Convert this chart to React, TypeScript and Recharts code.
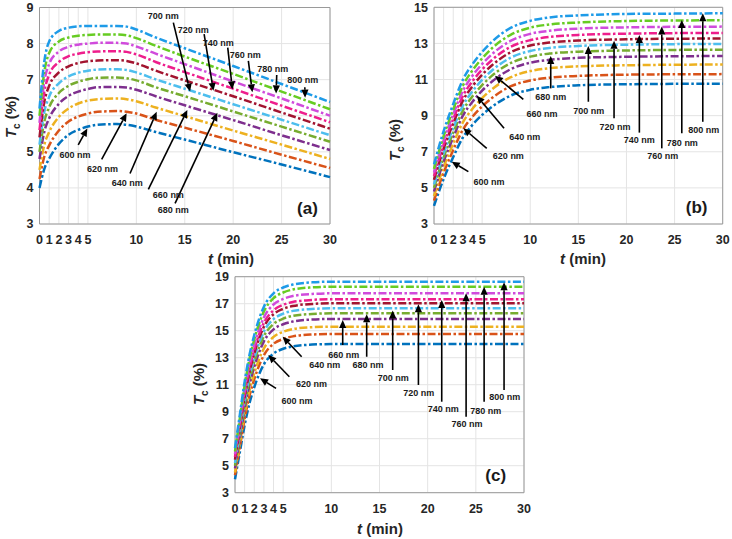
import React from "react";
import {
  LineChart,
  Line,
  XAxis,
  YAxis,
  CartesianGrid,
  ReferenceLine,
  ReferenceDot,
  ReferenceArea,
} from "recharts";

const wavelengths = [600, 620, 640, 660, 680, 700, 720, 740, 760, 780, 800];
const colors = [
  "#0072BD",
  "#D95319",
  "#EDB120",
  "#7E2F8E",
  "#77AC30",
  "#4DBEEE",
  "#A2142F",
  "#EE1E8C",
  "#D04BDC",
  "#66CC22",
  "#1E9BE8",
];
const timeTicks = [0, 1, 2, 3, 4, 5, 10, 15, 20, 25, 30];

// (a) rises, plateaus, then decays
const tA = [0, 0.5, 1, 2, 3, 4, 5, 6, 8, 9, 10, 12, 15, 20, 25, 30];
const a600 = [4.0, 4.53, 4.81, 5.22, 5.47, 5.61, 5.7, 5.75, 5.77, 5.75, 5.7, 5.55, 5.34, 4.99, 4.65, 4.3];
const a620 = [4.25, 4.87, 5.18, 5.59, 5.84, 5.98, 6.06, 6.11, 6.13, 6.11, 6.06, 5.89, 5.67, 5.3, 4.92, 4.55];
const a640 = [4.5, 5.2, 5.55, 5.97, 6.2, 6.34, 6.42, 6.46, 6.48, 6.46, 6.4, 6.23, 5.99, 5.59, 5.2, 4.8];
const a660 = [4.8, 5.56, 5.93, 6.33, 6.55, 6.67, 6.74, 6.79, 6.8, 6.78, 6.72, 6.54, 6.29, 5.88, 5.46, 5.05];
const a680 = [5.0, 5.84, 6.24, 6.63, 6.83, 6.94, 7.01, 7.05, 7.06, 7.04, 6.98, 6.79, 6.54, 6.12, 5.7, 5.28];
const a700 = [5.2, 6.11, 6.53, 6.9, 7.09, 7.19, 7.25, 7.28, 7.29, 7.27, 7.2, 7.01, 6.75, 6.32, 5.89, 5.46];
const a720 = [5.4, 6.39, 6.83, 7.2, 7.37, 7.46, 7.51, 7.53, 7.54, 7.52, 7.45, 7.25, 6.98, 6.54, 6.09, 5.64];
const a740 = [5.6, 6.67, 7.14, 7.49, 7.65, 7.72, 7.76, 7.78, 7.79, 7.77, 7.7, 7.49, 7.21, 6.75, 6.28, 5.82];
const a760 = [5.8, 6.95, 7.44, 7.78, 7.91, 7.97, 8.0, 8.02, 8.02, 8.0, 7.92, 7.72, 7.43, 6.95, 6.48, 6.0];
const a780 = [6.0, 7.22, 7.74, 8.06, 8.17, 8.22, 8.24, 8.25, 8.25, 8.23, 8.15, 7.94, 7.64, 7.16, 6.67, 6.18];
const a800 = [6.2, 7.51, 8.06, 8.35, 8.44, 8.48, 8.49, 8.49, 8.49, 8.47, 8.39, 8.17, 7.87, 7.38, 6.88, 6.38];

// (b) slow saturation
const tB = [0, 0.5, 1, 2, 3, 4, 5, 6, 8, 10, 12, 15, 20, 25, 30];
const b600 = [4.0, 4.78, 5.49, 6.71, 7.79, 8.49, 9.04, 9.48, 10.12, 10.43, 10.58, 10.68, 10.74, 10.76, 10.77];
const b620 = [4.3, 5.11, 5.84, 7.1, 8.22, 8.94, 9.51, 9.97, 10.63, 10.95, 11.1, 11.2, 11.27, 11.29, 11.3];
const b640 = [4.55, 5.39, 6.15, 7.46, 8.63, 9.38, 9.97, 10.45, 11.13, 11.47, 11.63, 11.73, 11.79, 11.82, 11.83];
const b660 = [4.8, 5.66, 6.45, 7.8, 9.0, 9.77, 10.38, 10.88, 11.58, 11.93, 12.09, 12.2, 12.26, 12.29, 12.3];
const b680 = [5.0, 5.88, 6.68, 8.06, 9.28, 10.07, 10.69, 11.2, 11.92, 12.27, 12.44, 12.54, 12.61, 12.64, 12.65];
const b700 = [5.2, 6.09, 6.91, 8.31, 9.55, 10.35, 10.98, 11.49, 12.22, 12.58, 12.75, 12.86, 12.93, 12.96, 12.97];
const b720 = [5.45, 6.35, 7.17, 8.58, 9.83, 10.63, 11.27, 11.78, 12.52, 12.88, 13.05, 13.16, 13.23, 13.26, 13.27];
const b740 = [5.65, 6.56, 7.39, 8.82, 10.09, 10.91, 11.55, 12.07, 12.82, 13.18, 13.36, 13.47, 13.54, 13.57, 13.58];
const b760 = [5.85, 6.78, 7.63, 9.08, 10.37, 11.21, 11.86, 12.39, 13.15, 13.53, 13.7, 13.82, 13.89, 13.92, 13.93];
const b780 = [6.05, 7.0, 7.86, 9.34, 10.66, 11.51, 12.17, 12.72, 13.49, 13.87, 14.05, 14.16, 14.24, 14.27, 14.28];
const b800 = [6.3, 7.26, 8.14, 9.65, 10.99, 11.85, 12.53, 13.08, 13.87, 14.25, 14.44, 14.55, 14.63, 14.65, 14.67];

// (c) fast saturation
const tC = [0, 0.5, 1, 1.5, 2, 3, 4, 5, 6, 8, 10, 15, 20, 25, 30];
const c600 = [4.0, 6.0, 8.0, 9.61, 10.81, 12.51, 13.31, 13.66, 13.84, 13.97, 14.01, 14.01, 14.01, 14.01, 14.01];
const c620 = [4.3, 6.39, 8.48, 10.16, 11.41, 13.19, 14.03, 14.39, 14.58, 14.72, 14.76, 14.76, 14.76, 14.76, 14.76];
const c640 = [4.5, 6.66, 8.82, 10.55, 11.84, 13.68, 14.54, 14.92, 15.12, 15.26, 15.3, 15.3, 15.3, 15.3, 15.3];
const c660 = [4.8, 7.01, 9.23, 11.0, 12.33, 14.21, 15.1, 15.48, 15.68, 15.83, 15.87, 15.87, 15.87, 15.87, 15.87];
const c680 = [5.0, 7.26, 9.52, 11.32, 12.68, 14.6, 15.5, 15.89, 16.1, 16.24, 16.29, 16.29, 16.29, 16.29, 16.29];
const c700 = [5.2, 7.49, 9.78, 11.62, 12.99, 14.94, 15.86, 16.26, 16.47, 16.61, 16.66, 16.66, 16.66, 16.66, 16.66];
const c720 = [5.45, 7.77, 10.08, 11.93, 13.32, 15.29, 16.22, 16.62, 16.83, 16.98, 17.03, 17.03, 17.03, 17.03, 17.03];
const c740 = [5.65, 7.99, 10.32, 12.19, 13.59, 15.58, 16.51, 16.92, 17.13, 17.28, 17.33, 17.33, 17.33, 17.33, 17.33];
const c760 = [5.85, 8.23, 10.62, 12.53, 13.96, 15.98, 16.94, 17.35, 17.57, 17.72, 17.77, 17.77, 17.77, 17.77, 17.77];
const c780 = [6.05, 8.49, 10.93, 12.89, 14.35, 16.43, 17.41, 17.83, 18.05, 18.21, 18.26, 18.26, 18.26, 18.26, 18.26];
const c800 = [6.3, 8.77, 11.23, 13.2, 14.68, 16.78, 17.77, 18.2, 18.42, 18.58, 18.63, 18.63, 18.63, 18.63, 18.63];

// annotations: label centre, arrow tail, arrow head (data units)
type Note = { text: string; at: number[]; from: number[]; to: number[] };
const notesA: Note[] = [
  { text: "600 nm", at: [3.67, 4.91], from: [4.0, 5.19], to: [4.94, 5.65] },
  { text: "620 nm", at: [6.5, 4.52], from: [6.42, 4.79], to: [9.0, 6.07] },
  { text: "640 nm", at: [9.07, 4.15], from: [9.35, 4.4], to: [12.1, 6.11] },
  { text: "660 nm", at: [13.31, 3.81], from: [11.24, 3.96], to: [15.27, 6.16] },
  { text: "680 nm", at: [13.82, 3.39], from: [14.0, 3.57], to: [18.37, 6.08] },
  { text: "700 nm", at: [12.79, 8.76], from: [13.82, 8.58], to: [15.55, 6.67] },
  { text: "720 nm", at: [15.89, 8.39], from: [17.0, 8.26], to: [17.96, 6.69] },
  { text: "740 nm", at: [18.47, 8.02], from: [19.44, 7.89], to: [19.92, 6.73] },
  { text: "760 nm", at: [21.24, 7.69], from: [21.57, 7.52], to: [21.98, 6.65] },
  { text: "780 nm", at: [24.09, 7.3], from: [24.5, 7.13], to: [24.43, 6.62] },
  { text: "800 nm", at: [27.19, 6.98], from: [27.4, 6.79], to: [27.43, 6.5] },
];
const notesB: Note[] = [
  { text: "600 nm", at: [5.72, 5.31], from: [3.57, 5.9], to: [1.84, 6.45] },
  { text: "620 nm", at: [7.73, 6.78], from: [5.48, 7.19], to: [3.05, 8.3] },
  { text: "640 nm", at: [9.42, 7.83], from: [7.28, 8.3], to: [4.44, 10.1] },
  { text: "660 nm", at: [11.23, 9.09], from: [9.28, 9.9], to: [6.34, 11.21] },
  { text: "680 nm", at: [12.13, 10.03], from: [12.13, 10.51], to: [12.13, 12.3] },
  { text: "700 nm", at: [16.08, 9.27], from: [16.04, 9.77], to: [16.04, 12.86] },
  { text: "720 nm", at: [18.82, 8.39], from: [18.71, 8.85], to: [18.71, 13.15] },
  { text: "740 nm", at: [21.34, 7.63], from: [21.34, 8.06], to: [21.34, 13.47] },
  { text: "760 nm", at: [23.77, 6.78], from: [23.67, 7.19], to: [23.67, 13.93] },
  { text: "780 nm", at: [25.81, 7.47], from: [25.75, 8.02], to: [25.75, 14.3] },
  { text: "800 nm", at: [28.03, 8.22], from: [27.93, 8.66], to: [27.93, 14.67] },
];
const notesC: Note[] = [
  { text: "600 nm", at: [6.44, 9.77], from: [4.26, 10.73], to: [2.6, 11.47] },
  { text: "620 nm", at: [7.93, 11.05], from: [5.64, 11.59], to: [3.46, 13.2] },
  { text: "640 nm", at: [9.31, 12.44], from: [6.92, 13.07], to: [4.95, 14.56] },
  { text: "660 nm", at: [11.29, 13.22], from: [11.18, 13.94], to: [11.18, 15.79] },
  { text: "680 nm", at: [13.81, 12.46], from: [13.67, 13.07], to: [13.67, 16.21] },
  { text: "700 nm", at: [16.44, 11.5], from: [16.37, 12.09], to: [16.37, 16.5] },
  { text: "720 nm", at: [19.07, 10.41], from: [19.04, 10.98], to: [19.04, 16.96] },
  { text: "740 nm", at: [21.63, 9.2], from: [21.46, 9.74], to: [21.46, 17.27] },
  { text: "760 nm", at: [24.09, 8.09], from: [23.99, 8.63], to: [23.99, 17.77] },
  { text: "780 nm", at: [26.03, 9.07], from: [25.86, 9.74], to: [25.86, 18.26] },
  { text: "800 nm", at: [28.0, 10.07], from: [27.93, 10.61], to: [27.93, 18.58] },
];

const FONT = "'Liberation Sans', Arial, sans-serif";

const buildRows = (times: number[], series: number[][]) =>
  times.map((t, i) => {
    const row: Record<string, number> = { t };
    series.forEach((s, k) => {
      row[`w${wavelengths[k]}`] = s[i];
    });
    return row;
  });

function ArrowShape(props: any) {
  const { x1, y1, x2, y2 } = props;
  const dx = x2 - x1;
  const dy = y2 - y1;
  const len = Math.hypot(dx, dy) || 1;
  const ux = dx / len;
  const uy = dy / len;
  const hl = 8;
  const hw = 3.6;
  const bx = x2 - ux * hl;
  const by = y2 - uy * hl;
  return (
    <g>
      <line x1={x1} y1={y1} x2={bx} y2={by} stroke="#000" strokeWidth={1.6} />
      <polygon
        points={`${x2},${y2} ${bx - uy * hw},${by + ux * hw} ${bx + uy * hw},${by - ux * hw}`}
        fill="#000"
      />
    </g>
  );
}

interface PanelProps {
  rows: Record<string, number>[];
  yMax: number;
  yTicks: number[];
  notes: Note[];
  width: number;
  height: number;
  top: number;
  bottom: number; // plot bottom, px from chart top
  right: number;
  yWidth: number;
}

function Panel({ rows, yMax, yTicks, notes, width, height, top, bottom, right, yWidth }: PanelProps) {
  const tick = { fontSize: 12.5, fontWeight: 700, fill: "#262626", fontFamily: FONT };
  return (
    <LineChart
      width={width}
      height={height}
      data={rows}
      margin={{ top, right, left: 0, bottom: 0 }}
    >
      <CartesianGrid stroke="#e4e4e4" strokeWidth={1} />
      <XAxis
        dataKey="t"
        type="number"
        domain={[0, 30]}
        ticks={timeTicks}
        interval={0}
        tick={tick}
        tickLine={false}
        axisLine={false}
        tickSize={0}
        tickMargin={11}
        height={height - bottom}
      />
      <YAxis
        type="number"
        domain={[3, yMax]}
        ticks={yTicks}
        interval={0}
        tick={tick}
        tickLine={false}
        axisLine={false}
        tickSize={0}
        tickMargin={6}
        width={yWidth}
      />
      <ReferenceArea x1={0} x2={30} y1={3} y2={yMax} fill="none" fillOpacity={0} stroke="#9a9a9a" strokeWidth={1} />
      {wavelengths.map((w, k) => (
        <Line
          key={w}
          dataKey={`w${w}`}
          type="monotone"
          stroke={colors[k]}
          strokeWidth={2.5}
          strokeDasharray="8 2.5 2.5 2.5"
          dot={false}
          activeDot={false}
          isAnimationActive={false}
        />
      ))}
      {notes.map((n) => (
        <ReferenceLine
          key={`arrow-${n.text}`}
          segment={[
            { x: n.from[0], y: n.from[1] },
            { x: n.to[0], y: n.to[1] },
          ]}
          ifOverflow="visible"
          shape={ArrowShape}
        />
      ))}
      {notes.map((n) => (
        <ReferenceDot
          key={`label-${n.text}`}
          x={n.at[0]}
          y={n.at[1]}
          r={0}
          ifOverflow="visible"
          shape={(p: any) => (
            <text
              x={p.cx}
              y={p.cy}
              textAnchor="middle"
              dominantBaseline="central"
              fontSize={9}
              fontWeight={700}
              fill="#1a1a1a"
              fontFamily={FONT}
            >
              {n.text}
            </text>
          )}
        />
      ))}
    </LineChart>
  );
}

const abs = (left: number, top: number): React.CSSProperties => ({
  position: "absolute",
  left,
  top,
});

function XTitle({ x, y }: { x: number; y: number }) {
  return (
    <div
      style={{
        ...abs(x, y),
        transform: "translate(-50%, -50%)",
        fontFamily: FONT,
        fontWeight: 700,
        fontSize: 15,
        color: "#262626",
        whiteSpace: "nowrap",
      }}
    >
      <i>t</i> (min)
    </div>
  );
}

function YTitle({ x, y }: { x: number; y: number }) {
  return (
    <div
      style={{
        ...abs(x, y),
        transform: "translate(-50%, -50%) rotate(-90deg)",
        fontFamily: FONT,
        fontWeight: 700,
        fontSize: 15,
        color: "#262626",
        whiteSpace: "nowrap",
      }}
    >
      <i>T</i>
      <sub style={{ fontSize: 10, fontStyle: "normal" }}>c</sub> (%)
    </div>
  );
}

function Tag({ x, y, text }: { x: number; y: number; text: string }) {
  return (
    <div
      style={{
        ...abs(x, y),
        transform: "translate(-50%, -50%)",
        fontFamily: FONT,
        fontWeight: 700,
        fontSize: 17,
        color: "#1a1a1a",
      }}
    >
      {text}
    </div>
  );
}

export default function App() {
  const rowsA = buildRows(tA, [a600, a620, a640, a660, a680, a700, a720, a740, a760, a780, a800]);
  const rowsB = buildRows(tB, [b600, b620, b640, b660, b680, b700, b720, b740, b760, b780, b800]);
  const rowsC = buildRows(tC, [c600, c620, c640, c660, c680, c700, c720, c740, c760, c780, c800]);

  return (
    <div
      style={{
        position: "absolute",
        left: 0,
        top: 0,
        width: 732,
        height: 539,
        background: "#fff",
        overflow: "hidden",
      }}
    >
      <div style={abs(0, 0)}>
        <Panel
          rows={rowsA}
          yMax={9}
          yTicks={[3, 4, 5, 6, 7, 8, 9]}
          notes={notesA}
          width={340}
          height={260}
          top={7.5}
          bottom={224}
          right={10}
          yWidth={39.5}
        />
      </div>
      <div style={abs(394, 0)}>
        <Panel
          rows={rowsB}
          yMax={15}
          yTicks={[3, 5, 7, 9, 11, 13, 15]}
          notes={notesB}
          width={336}
          height={260}
          top={7.3}
          bottom={224}
          right={7.3}
          yWidth={40}
        />
      </div>
      <div style={abs(195, 265)}>
        <Panel
          rows={rowsC}
          yMax={19}
          yTicks={[3, 5, 7, 9, 11, 13, 15, 17, 19]}
          notes={notesC}
          width={340}
          height={270}
          top={11.7}
          bottom={227.7}
          right={11}
          yWidth={40}
        />
      </div>
      <XTitle x={231} y={258} />
      <XTitle x={583} y={258} />
      <XTitle x={380} y={528} />
      <YTitle x={12} y={117} />
      <YTitle x={396} y={140} />
      <YTitle x={200} y={384} />
      <Tag x={307.5} y={209} text="(a)" />
      <Tag x={696.7} y={207.5} text="(b)" />
      <Tag x={495.7} y={475.7} text="(c)" />
    </div>
  );
}
